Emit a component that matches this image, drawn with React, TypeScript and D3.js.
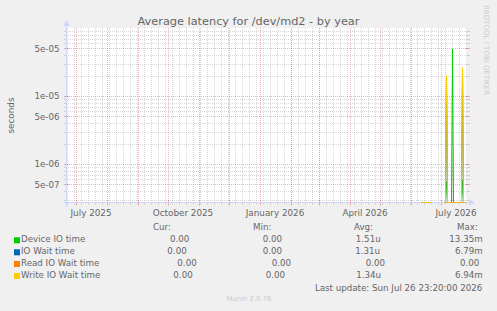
import * as d3 from 'd3';

// munin "by year" latency graph, 400x175 canvas
const W = 497;
const H = 311;
const plot = { left: 67, right: 467, top: 28, bottom: 203 };

const title = 'Average latency for /dev/md2 - by year';
const yAxisLabel = 'seconds';
const timeStart = new Date(2025, 5, 21, 23, 20);
const timeEnd = new Date(2026, 6, 26, 23, 20);
const yDomain = [2.67e-7, 1e-4];

const yTickValues = [5e-7, 1e-6, 5e-6, 1e-5, 5e-5];
const yTickLabels = ['5e-07', '1e-06', '5e-06', '1e-05', '5e-05'];
const xLabelMonths = ['2025-07-01', '2025-10-01', '2026-01-01', '2026-04-01', '2026-07-01'];
const xLabelTexts = ['July 2025', 'October 2025', 'January 2026', 'April 2026', 'July 2026'];

// daily samples (null = unknown, breaks the line)
const sampleDays = [
  '2026-06-11', '2026-06-12', '2026-06-13', '2026-06-14', '2026-06-15',
  '2026-06-16', '2026-06-17', '2026-06-18', '2026-06-19', '2026-06-20',
  '2026-06-21',
  '2026-07-04', '2026-07-05', '2026-07-06', '2026-07-07', '2026-07-08',
  '2026-07-09', '2026-07-10', '2026-07-11', '2026-07-12', '2026-07-13',
  '2026-07-14', '2026-07-15', '2026-07-16', '2026-07-17', '2026-07-18',
  '2026-07-19', '2026-07-20', '2026-07-21', '2026-07-22', '2026-07-23',
  '2026-07-24', '2026-07-25',
];
const deviceIO = [
  0, 0, 0, 0, 0, 0, 0, 0, 0, 0,
  null,
  0, 0, 5.5e-7, 0, 0, 0, 0, 0, 4.9e-5, 0, 0, 0, 0, 0, 0, 0, 0, 0, 5.8e-7, 0, 0, 0,
];
const ioWait = [
  0, 0, 0, 0, 0, 0, 0, 0, 0, 0,
  null,
  0, 0, 1.95e-5, 0, 0, 0, 0, 0, 0, 0, 0, 0, 0, 0, 0, 0, 0, 0, 2.55e-5, 0, 0, 0,
];
const readIOWait = [
  0, 0, 0, 0, 0, 0, 0, 0, 0, 0,
  null,
  0, 0, 0, 0, 0, 0, 0, 0, 0, 0, 0, 0, 0, 0, 0, 0, 0, 0, 0, 0, 0, 0,
];
const writeIOWait = [
  0, 0, 0, 0, 0, 0, 0, 0, 0, 0,
  null,
  0, 0, 1.99e-5, 0, 0, 0, 0, 0, 0, 0, 0, 0, 0, 0, 0, 0, 0, 0, 2.61e-5, 0, 0, 0,
];

const seriesNames = ['Device IO time', 'IO Wait time', 'Read IO Wait time', 'Write IO Wait time'];
const seriesColors = ['#00CC00', '#0066B3', '#FF8000', '#FFCC00'];
const seriesValues = [deviceIO, ioWait, readIOWait, writeIOWait];
const curValues = ['0.00', '0.00', '0.00', '0.00'];
const minValues = ['0.00', '0.00', '0.00', '0.00'];
const avgValues = ['1.51u', '1.31u', '0.00', '1.34u'];
const maxValues = ['13.35m', '6.79m', '0.00', '6.94m'];
const legendHeaders = ['Cur:', 'Min:', 'Avg:', 'Max:'];
const lastUpdate = 'Last update: Sun Jul 26 23:20:00 2026';
const version = 'Munin 2.0.76';
const watermark = 'RRDTOOL / TOBI OETIKER';

// legend layout (rrdtool pads with spaces, so columns drift a bit per row)
const rowCenters = [239.3, 251.3, 263, 275];
const headerLeft = [153, 253, 354, 457];
const colRight = [
  [189.3, 282, 380.7, 482.7],
  [186.7, 282, 380, 482.7],
  [196.7, 291, 385, 479.3],
  [192.7, 285, 381, 482.7],
];

const FONT = 'DejaVu Sans';
const FG = '#666666';

export default function App() {
  const parseDay = d3.timeParse('%Y-%m-%d');
  const x = d3.scaleTime().domain([timeStart, timeEnd]).range([plot.left, plot.right]);
  const y = d3.scaleLog().domain(yDomain).range([plot.bottom, plot.top]);

  const px = (d: Date) => Math.round(x(d)) + 0.5;
  const py = (v: number) => Math.round(y(v)) + 0.5;

  // horizontal grid: 1..9 per decade, 1 and 5 are major
  const hGrid: { v: number; major: boolean }[] = [];
  for (let e = -7; e <= -4; e++) {
    for (let m = 1; m <= 9; m++) {
      const v = m * Math.pow(10, e);
      if (v > yDomain[0] && v < yDomain[1] * 0.99) hGrid.push({ v, major: m === 1 || m === 5 });
    }
  }
  const weeks = d3.timeSunday.range(timeStart, timeEnd);
  const months = d3.timeMonth.range(timeStart, timeEnd);

  const minor = 'rgba(150,150,150,0.38)';
  const majorC = 'rgba(222,79,79,0.42)';
  const axisC = '#CFD6F8';
  const B = plot.bottom - 0.5;
  const L = plot.left - 0.5;

  const line = d3
    .line<number | null>()
    .defined((v) => v !== null)
    .x((_, i) => Math.round(x(parseDay(sampleDays[i]) as Date)) + 0.5)
    .y((v) => (v as number) <= 0 ? B : Math.min(y(v as number), B));

  return (
    <svg width={W} height={H} style={{ position: 'absolute', left: 0, top: 0, background: '#F0F0F0' }} fontFamily={FONT}>
      <rect x={0} y={0} width={W} height={H} fill="#F0F0F0" />
      <rect x={plot.left} y={plot.top} width={plot.right - plot.left} height={plot.bottom - plot.top} fill="#FFFFFF" />

      {/* minor vertical grid */}
      {weeks.map((d, i) => (
        <g key={'w' + i} stroke={minor} strokeWidth={1}>
          <line x1={px(d)} x2={px(d)} y1={plot.top} y2={B} strokeDasharray="1,1" />
          <line x1={px(d)} x2={px(d)} y1={B} y2={B + 2} />
        </g>
      ))}
      {/* minor horizontal grid */}
      {hGrid.filter((g) => !g.major).map((g, i) => (
        <g key={'h' + i} stroke={minor} strokeWidth={1}>
          <line x1={plot.left - 1} x2={plot.right + 1} y1={py(g.v)} y2={py(g.v)} strokeDasharray="1,1" />
          <line x1={plot.left - 3} x2={plot.left} y1={py(g.v)} y2={py(g.v)} />
          <line x1={plot.right} x2={plot.right + 3} y1={py(g.v)} y2={py(g.v)} />
        </g>
      ))}
      {/* major vertical grid */}
      {months.map((d, i) => (
        <g key={'m' + i} stroke={majorC} strokeWidth={1}>
          <line x1={px(d)} x2={px(d)} y1={plot.top} y2={B} strokeDasharray="1,1" />
          <line x1={px(d)} x2={px(d)} y1={B - 2} y2={B + 3} />
        </g>
      ))}
      {/* major horizontal grid */}
      {hGrid.filter((g) => g.major).map((g, i) => (
        <g key={'H' + i} stroke={majorC} strokeWidth={1}>
          <line x1={plot.left - 2} x2={plot.right + 2} y1={py(g.v)} y2={py(g.v)} strokeDasharray="1,1" />
          <line x1={plot.left - 3} x2={plot.left + 2} y1={py(g.v)} y2={py(g.v)} />
          <line x1={plot.right - 2} x2={plot.right + 3} y1={py(g.v)} y2={py(g.v)} />
        </g>
      ))}

      {/* axes */}
      <line x1={plot.left - 4} x2={plot.right + 4} y1={B} y2={B} stroke={axisC} strokeWidth={1} />
      <line x1={L} x2={L} y1={plot.bottom + 4} y2={plot.top - 4} stroke={axisC} strokeWidth={1} />
      <path d={`M${plot.right + 2},${B - 3.5}L${plot.right + 2},${B + 3.5}L${plot.right + 8},${B}Z`} fill={axisC} />
      <path d={`M${L - 3.5},${plot.top - 2}L${L + 3.5},${plot.top - 2}L${L},${plot.top - 8}Z`} fill={axisC} />

      {/* series */}
      {seriesValues.map((vals, i) => (
        <path key={'s' + i} d={line(vals) || ''} fill="none" stroke={seriesColors[i]} strokeWidth={1} />
      ))}

      {/* y labels */}
      {yTickValues.map((v, i) => (
        <text key={'yl' + i} x={59.5} y={y(v) + 3.2} textAnchor="end" fontSize={8.7} fill={FG}>
          {yTickLabels[i]}
        </text>
      ))}
      {/* x labels, centred half a month after the tick like rrdtool */}
      {xLabelMonths.map((m, i) => (
        <text key={'xl' + i} x={x(d3.timeDay.offset(parseDay(m) as Date, 15))} y={216} textAnchor="middle" fontSize={8.8} fill={FG}>
          {xLabelTexts[i]}
        </text>
      ))}

      <text x={248.5} y={25.3} textAnchor="middle" fontSize={11.3} fill={FG}>{title}</text>
      <text transform={`translate(14,${(plot.top + plot.bottom) / 2}) rotate(-90)`} textAnchor="middle" fontSize={8.8} fill={FG}>
        {yAxisLabel}
      </text>
      <text transform="translate(484,5) rotate(90)" fontSize={7} fill="#CCCCCC">{watermark}</text>

      {/* legend */}
      {legendHeaders.map((h, i) => (
        <text key={'lh' + i} x={headerLeft[i]} y={230} fontSize={8.7} fill={FG}>{h}</text>
      ))}
      {seriesNames.map((name, i) => (
        <g key={'lg' + i} fontSize={8.7} fill={FG}>
          <rect x={14} y={rowCenters[i] - 2} width={6} height={6} fill={seriesColors[i]} />
          <text x={21} y={rowCenters[i] + 3}>{name}</text>
          {[curValues[i], minValues[i], avgValues[i], maxValues[i]].map((v, j) => (
            <text key={j} x={colRight[i][j]} y={rowCenters[i] + 3} textAnchor="end">{v}</text>
          ))}
        </g>
      ))}
      <text x={482.3} y={290.7} textAnchor="end" fontSize={8.7} fill={FG}>{lastUpdate}</text>
      <text x={249} y={300.6} textAnchor="middle" fontSize={6.9} fill="#CCCCCC">{version}</text>
    </svg>
  );
}
